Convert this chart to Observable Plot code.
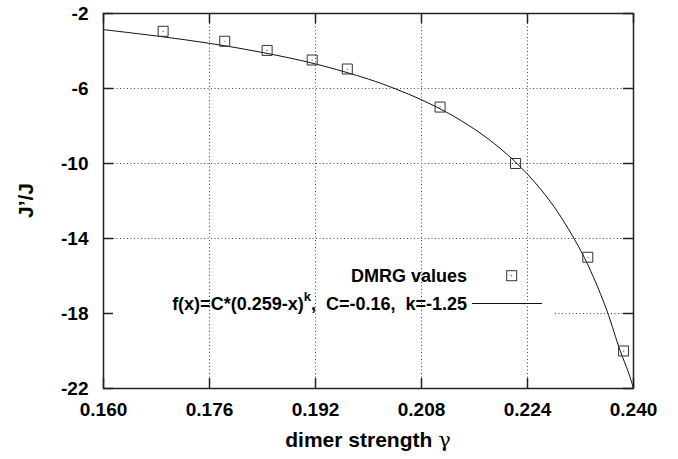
<!DOCTYPE html>
<html>
<head>
<meta charset="utf-8">
<script src="https://cdn.jsdelivr.net/npm/d3@7"></script>
<script src="https://cdn.jsdelivr.net/npm/@observablehq/plot@0.6"></script>
<style>
  html, body { margin: 0; padding: 0; background: #fff; }
  #chart svg { display: block; }
</style>
</head>
<body>
<div id="chart"></div>
<script>
// ---- data ----
const xTicks = [0.160, 0.176, 0.192, 0.208, 0.224, 0.240];
const yTicks = [-2, -6, -10, -14, -18, -22];

// DMRG values (dimer strength gamma, J'/J)
const gammaDMRG = [0.1690, 0.1783, 0.1847, 0.1915, 0.1968, 0.2108, 0.2222, 0.2331, 0.2385];
const jDMRG     = [-2.95, -3.48, -3.97, -4.48, -4.96, -6.99, -10.0, -15.0, -20.0];

// fitted curve
const fitGamma = [0.160, 0.168, 0.176, 0.184, 0.192, 0.200, 0.204, 0.208, 0.212, 0.216, 0.220, 0.224, 0.228, 0.232, 0.234, 0.236, 0.238, 0.2392, 0.2400];
const fitJ     = [-2.86, -3.20, -3.59, -4.08, -4.69, -5.50, -6.01, -6.60, -7.31, -8.17, -9.23, -10.57, -12.30, -14.62, -16.10, -17.86, -20.0, -21.1, -22.0];

const legendPoints = "DMRG values";
const legendFitMain = "f(x)=C*(0.259-x)";
const legendFitSup = "k";
const legendFitRest = ",  C=-0.16,  k=-1.25";
const xLabel = "dimer strength ";
const xLabelSym = "γ";
const yLabel = "J’/J";

// ---- build tables ----
const dmrg = gammaDMRG.map((g, i) => ({g, j: jDMRG[i]}));
const fit = fitGamma.map((g, i) => ({g, j: fitJ[i]}));

const W = 678, H = 459;
const mL = 103, mR = 45, mT = 13, mB = 71;
const innerW = W - mL - mR, innerH = H - mT - mB;
const tickLen = 10;
const gridStyle = {stroke: "#444", strokeWidth: 1, strokeDasharray: "1,2.5"};
const axisStroke = {stroke: "#222", strokeWidth: 1.5};
const font = "'Liberation Sans', Arial, Helvetica, sans-serif";

const interiorX = xTicks.slice(1, -1);
const interiorY = yTicks.slice(1, -1);

const chart = Plot.plot({
  width: W, height: H,
  marginLeft: mL, marginRight: mR, marginTop: mT, marginBottom: mB,
  x: {domain: [0.160, 0.240], axis: null},
  y: {domain: [-22, -2], axis: null},
  style: {fontFamily: font, fontSize: "18px", fontWeight: "bold", background: "#fff", color: "#000"},
  marks: [
    // dotted grid
    Plot.ruleX(interiorX, {insetTop: tickLen, insetBottom: tickLen, ...gridStyle}),
    Plot.ruleY(interiorY.filter(d => d !== -18), {insetLeft: tickLen, insetRight: tickLen, ...gridStyle}),
    Plot.ruleY([-18], {insetLeft: 452, insetRight: tickLen, ...gridStyle}),
    // inward ticks on all four sides
    Plot.ruleX(xTicks, {insetBottom: innerH - tickLen, ...axisStroke}),
    Plot.ruleX(xTicks, {insetTop: innerH - tickLen, ...axisStroke}),
    Plot.ruleY(yTicks, {insetRight: innerW - tickLen, ...axisStroke}),
    Plot.ruleY(yTicks, {insetLeft: innerW - tickLen, ...axisStroke}),
    Plot.frame(axisStroke),
    // fitted curve
    Plot.line(fit, {x: "g", y: "j", curve: "catmull-rom", stroke: "#111", strokeWidth: 1, clip: true}),
    // DMRG points
    Plot.dot(dmrg, {x: "g", y: "j", symbol: "square", r: 5.64, stroke: "#333", strokeWidth: 1, fill: "none"}),
    Plot.dot(dmrg, {x: "g", y: "j", r: 0.6, fill: "#333", stroke: "none"}),
    // tick labels
    Plot.text(xTicks, {x: d => d, frameAnchor: "bottom", lineAnchor: "top", dy: 14, text: d => d3.format(".3f")(d), fontSize: 19, fontWeight: "bold", fill: "#000"}),
    Plot.text(yTicks, {y: d => d, frameAnchor: "left", textAnchor: "end", dx: -15, text: d => String(d), fontSize: 19, fontWeight: "bold", fill: "#000"})
  ]
});

document.getElementById("chart").appendChild(chart);

const svg = d3.select(chart);

// x axis title
const xt = svg.append("text")
  .attr("x", mL + innerW / 2).attr("y", 447)
  .attr("text-anchor", "middle")
  .attr("font-family", font).attr("font-size", 21).attr("font-weight", "bold")
  .attr("fill", "#000")
  .style("white-space", "pre");
xt.append("tspan").text(xLabel);
xt.append("tspan").attr("font-family", "'DejaVu Serif', 'Liberation Serif', serif").attr("font-weight", "normal").text(xLabelSym);

// y axis title
svg.append("text")
  .attr("transform", `translate(32.5,${mT + innerH / 2}) rotate(-90)`)
  .attr("text-anchor", "middle")
  .attr("font-family", font).attr("font-size", 21).attr("font-weight", "bold")
  .attr("fill", "#000")
  .text(yLabel);

// legend
const lg = svg.append("g").attr("font-family", font).attr("font-size", 18).attr("font-weight", "bold").attr("fill", "#000");
lg.append("text").attr("x", 467).attr("y", 282).attr("text-anchor", "end").text(legendPoints);
lg.append("rect").attr("x", 506.7).attr("y", 270.7).attr("width", 10).attr("height", 10).attr("fill", "none").attr("stroke", "#333").attr("stroke-width", 1);
lg.append("circle").attr("cx", 511.7).attr("cy", 275.7).attr("r", 0.6).attr("fill", "#333");

const t2 = lg.append("text").attr("x", 467).attr("y", 310).attr("text-anchor", "end").style("white-space", "pre");
t2.append("tspan").text(legendFitMain);
t2.append("tspan").attr("dy", -9).attr("font-size", 13).text(legendFitSup);
t2.append("tspan").attr("dy", 9).text(legendFitRest);
lg.append("line").attr("x1", 472).attr("x2", 542).attr("y1", 303.5).attr("y2", 303.5).attr("stroke", "#111").attr("stroke-width", 1);
</script>
</body>
</html>
